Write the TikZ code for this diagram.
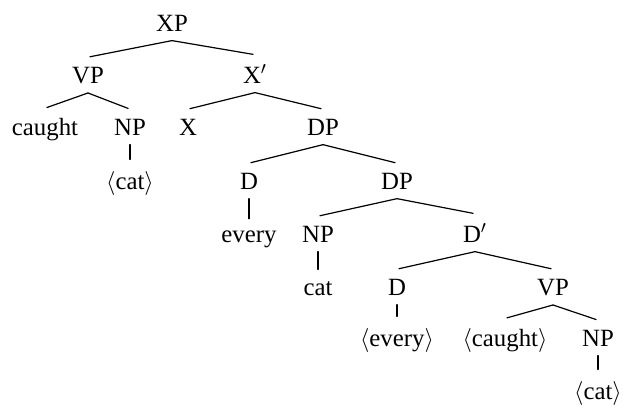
\documentclass[tikz,border=0pt]{standalone}
\usepackage{fontspec}
\setmainfont{Liberation Serif}
\begin{document}
\begin{tikzpicture}[x=0.5pt,y=-0.5pt,line cap=round,line width=0.6pt,font=\fontsize{12.4}{14}\selectfont,
	every node/.style={anchor=base,inner xsep=2pt,inner ysep=4.5pt},
	branch/.style={shorten >=1pt}]
	\useasboundingbox (0,0) rectangle (624,407);
	% rows (baselines)
	\def\ra{31} \def\rb{83} \def\rc{135} \def\rd{189}
	\def\re{242} \def\rf{295} \def\rg{346} \def\rh{399}
	\node (xp) at (172,\ra) {XP};
	\node (vp) at (88,\rb) {VP};
	\node (xbar) at (255,\rb) {X$'$};
	\node (caught) at (45,\rc) {caught};
	\node (np) at (130,\rc) {NP};
	\node (cat) at (130,\rd) {$\langle$cat$\rangle$};
	\node (x) at (188,\rc) {X};
	\node (dp) at (323,\rc) {DP};
	\node (d) at (249,\rd) {D};
	\node (every) at (249,\re) {every};
	\node (dpb) at (397,\rd) {DP};
	\node (npb) at (318,\re) {NP};
	\node (catb) at (318,\rf) {cat};
	\node (dbar) at (475,\re) {D$'$};
	\node (db) at (397,\rf) {D};
	\node (everyb) at (397,\rg) {$\langle$every$\rangle$};
	\node (vpb) at (553,\rf) {VP};
	\node (caughtb) at (505,\rg) {$\langle$caught$\rangle$};
	\node (npc) at (598,\rg) {NP};
	\node (catc) at (598,\rh) {$\langle$cat$\rangle$};
	\foreach \a/\b in {xp/vp,xp/xbar,vp/caught,vp/np,np/cat,xbar/x,xbar/dp,dp/d,dp/dpb,d/every,
		dpb/npb,dpb/dbar,npb/catb,dbar/db,dbar/vpb,db/everyb,vpb/caughtb,vpb/npc,npc/catc}
		\draw [branch] (\a.south) -- (\b.north);
\end{tikzpicture}
\end{document}
